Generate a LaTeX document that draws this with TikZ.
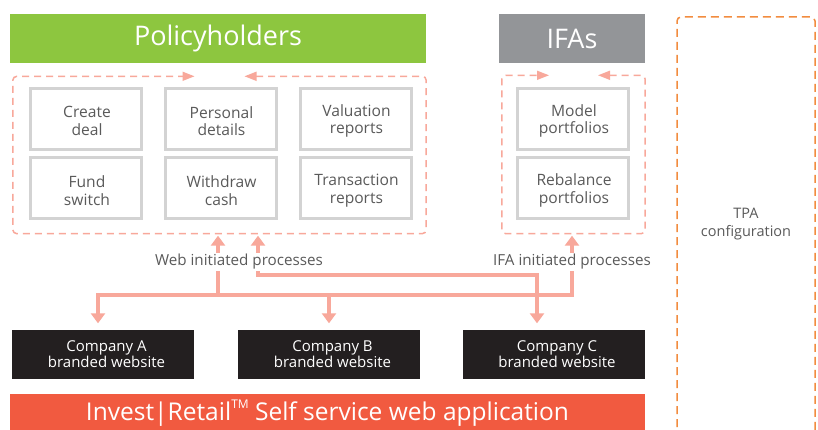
\documentclass[tikz,border=0pt]{standalone}
\usepackage{fontspec}
\setmainfont{Open Sans}
\usetikzlibrary{arrows.meta,calc}

\definecolor{phgreen}{HTML}{8DC63F}
\definecolor{ifagrey}{HTML}{939598}
\definecolor{salmon}{HTML}{F8A89B}
\definecolor{boxgrey}{HTML}{D3D3D3}
\definecolor{textgrey}{HTML}{5A5A5A}
\definecolor{sitebg}{HTML}{231F20}
\definecolor{appred}{HTML}{F15A40}
\definecolor{tpaorange}{HTML}{F28C3F}

\tikzset{
  banner/.style={fill=#1, text=white, font=\fontsize{27}{32}\selectfont, inner sep=0pt},
  ftext/.style={text=textgrey, align=center, inner sep=0pt,
    font=\fontsize{15.6}{17.5}\selectfont, xshift=1pt, yshift=-2pt},
  feature/.style={draw=boxgrey, line width=3pt, fill=white,
    minimum width=111pt, minimum height=61pt, inner sep=0pt,
    label={[ftext]center:#1}},
  stext/.style={text=white, align=center, inner sep=0pt,
    font=\fontsize{15}{16.5}\selectfont, xshift=3.5pt},
  site/.style={fill=sitebg, minimum width=182pt, minimum height=49pt,
    inner sep=0pt, label={[stext]center:#1}},
  zone/.style={minimum width=#1, inner sep=0pt},
  group/.style={draw=salmon, line width=1.5pt, dash pattern=on 7pt off 5pt,
    rounded corners=4pt,
    {Triangle[length=12pt,width=9pt]}-{Triangle[length=12pt,width=9pt]}},
  conn/.style={draw=salmon, line width=4pt},
  bigtip/.tip={Triangle[length=10pt,width=14pt]},
  proclabel/.style={fill=white, text=textgrey, inner sep=1pt,
    font=\fontsize{15.2}{18}\selectfont},
  tpa/.style={draw=tpaorange, line width=1.5pt, dash pattern=on 8pt off 5pt,
    rounded corners=4pt},
}

\begin{document}
\begin{tikzpicture}[x=1pt,y=-1pt]
\useasboundingbox[fill=white] (0,0) rectangle (818,430);

% headline banners
\node[banner=phgreen, minimum width=416pt, minimum height=49pt] (ph) at (218,38.5) {Policyholders};
\node[banner=ifagrey, minimum width=146pt, minimum height=49pt] (ifa) at (572,38.5) {IFAs};

% invisible zones that carry the dashed group frames
\node[zone=413pt, minimum height=157pt] (phzone) at (219.5,155) {};
\node[zone=143pt, minimum height=158pt] (ifazone) at (573.5,154.5) {};

\draw[group] ([xshift=25pt]phzone.north) -- (phzone.north east) -- (phzone.south east)
  -- (phzone.south west) -- (phzone.north west) -- ([xshift=-25pt]phzone.north);
\draw[group] ([xshift=24.5pt]ifazone.north) -- (ifazone.north east) -- (ifazone.south east)
  -- (ifazone.south west) -- (ifazone.north west) -- ([xshift=-24.5pt]ifazone.north);

% policyholder functions
\node[feature={Create\\deal}]             (create)      at (86,119)    {};
\node[feature={Personal\\details}]        (personal)    at (220.5,119) {};
\node[feature={Valuation\\reports}]       (valuation)   at (355.5,119) {};
\node[feature={Fund\\switch}]             (fund)        at (86,188.5)    {};
\node[feature={Withdraw\\cash}]           (withdraw)    at (220.5,188.5) {};
\node[feature={Transaction\\reports}]     (transaction) at (355.5,188.5) {};

% adviser functions
\node[feature={Model\\portfolios}]        (model)     at (573,119)   {};
\node[feature={Rebalance\\portfolios}]    (rebalance) at (573,188.5) {};

% branded websites
\node[site={Company A\\branded website}] (siteA) at (103,354)   {};
\node[site={Company B\\branded website}] (siteB) at (329,354)   {};
\node[site={Company C\\branded website}] (siteC) at (553.5,354) {};

% self service application bar
\node[fill=appred, text=white, minimum width=635pt, minimum height=38pt, inner sep=0pt,
  font=\fontsize{24.5}{28}\selectfont] (app) at (327.5,413)
  {Invest|Retail\raisebox{0.5em}{\fontsize{12}{14}\selectfont TM} Self service web application};

% TPA configuration column
\node[text=textgrey, align=center, font=\fontsize{14.5}{17.5}\selectfont] (tpatext) at (746,224) {TPA\\configuration};
\draw[tpa] (677,440) -- (677,17) -- (815,17) -- (815,440);

% process connectors
\coordinate (busL) at (98,295);
\coordinate (busR) at (572,295);
\coordinate (webA) at (218,295);
\coordinate (loopL) at (258,275);
\coordinate (loopR) at (537,275);

\draw[conn, bigtip-bigtip, shorten <=6pt, shorten >=2pt]
  (busL |- siteA.north) -- (busL) -- (busR) -- (busR |- ifazone.south);
\draw[conn, -bigtip, shorten >=2pt] (webA) -- (webA |- phzone.south);
\draw[conn, -bigtip, shorten >=6pt] (siteB.north |- busL) -- (siteB.north);
\draw[conn, bigtip-bigtip, shorten <=2pt, shorten >=6pt]
  (loopL |- phzone.south) -- (loopL) -- (loopR) -- (loopR |- siteC.north);

% process labels
\node[proclabel] (weblabel) at (239,262) {Web initiated processes};
\node[proclabel] (ifalabel) at (572,262) {IFA initiated processes};
\end{tikzpicture}
\end{document}
